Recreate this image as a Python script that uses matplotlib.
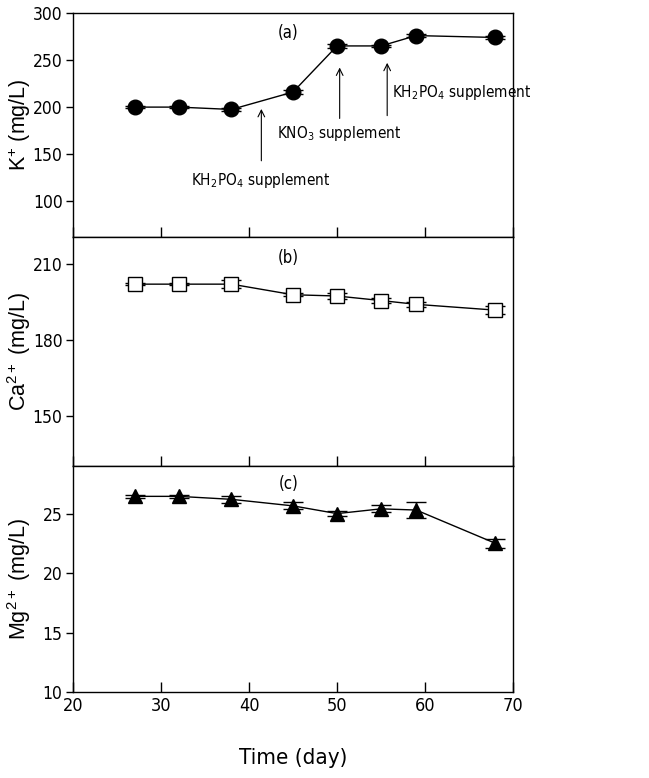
import matplotlib
matplotlib.use("Agg")
import matplotlib.pyplot as plt
from matplotlib import font_manager

# narrow font for ticks/annotations, like the original figure
installed = {f.name for f in font_manager.fontManager.ttflist}
if 'Liberation Sans Narrow' in installed:
    narrow = 'Liberation Sans Narrow'
else:
    narrow = 'DejaVu Sans'
plt.rcParams['font.family'] = [narrow, 'DejaVu Sans']
plt.rcParams['font.stretch'] = 'condensed'
plt.rcParams['mathtext.default'] = 'regular'

days = [27, 32, 38, 45, 50, 55, 59, 68]

k_vals = [200, 200, 197.5, 216, 265, 265, 276, 274]
k_err = [1, 1, 2, 2, 2, 1.5, 2, 2]

ca_vals = [202.1, 202.1, 202.1, 197.9, 197.4, 195.6, 194.1, 191.8]
ca_err = [0.5, 0.5, 1.5, 0.5, 1.0, 1.0, 1.0, 1.5]

mg_vals = [26.45, 26.45, 26.2, 25.65, 25.0, 25.4, 25.3, 22.5]
mg_err = [0.1, 0.1, 0.3, 0.3, 0.2, 0.3, 0.7, 0.4]

fig = plt.figure(figsize=(6.49, 7.78), dpi=100)

left, width = 0.1125, 0.678
ax_a = fig.add_axes([left, 0.6954, width, 0.9833 - 0.6954])
ax_b = fig.add_axes([left, 0.4010, width, 0.6954 - 0.4010])
ax_c = fig.add_axes([left, 0.1105, width, 0.4010 - 0.1105])

panels = [
    (ax_a, k_vals, k_err, 'o', 'black', (62, 300), [100, 150, 200, 250, 300], r'$K^{+}$ (mg/L)', '(a)', 279),
    (ax_b, ca_vals, ca_err, 's', 'white', (130, 220.8), [150, 180, 210], r'$Ca^{2+}$ (mg/L)', '(b)', 212.5),
    (ax_c, mg_vals, mg_err, '^', 'black', (10, 29), [10, 15, 20, 25], r'$Mg^{2+}$ (mg/L)', '(c)', 27.5),
]

for ax, vals, err, mk, fc, ylim, yticks, ylab, tag, tag_y in panels:
    ax.errorbar(days, vals, yerr=err, color='black', lw=1, marker=mk, ms=10.5,
                mfc=fc, mec='black', mew=1, ecolor='black', elinewidth=1,
                capsize=7, capthick=1)
    ax.set_xlim(20, 70)
    ax.set_ylim(*ylim)
    ax.set_yticks(yticks)
    ax.set_xticks([20, 30, 40, 50, 60, 70])
    ax.tick_params(axis='x', direction='in', length=7, width=1, top=False, labelsize=13)
    ax.tick_params(axis='y', direction='out', length=5, width=1, right=False, labelsize=12.5, pad=2.5)
    ax.set_ylabel(ylab, fontsize=15.5, family=['Liberation Sans'], stretch='normal')
    ax.yaxis.set_label_coords(-0.09, 0.5)
    ax.text(44.5, tag_y, tag, ha='center', va='center', fontsize=12)
    for sp in ax.spines.values():
        sp.set_linewidth(1)

ax_a.tick_params(axis='x', labelbottom=False)
ax_b.tick_params(axis='x', labelbottom=False)
ax_c.set_xlabel('Time (day)', fontsize=16, labelpad=24)

arrow_kw = dict(arrowstyle='->', color='black', lw=0.8, mutation_scale=12)
ax_a.annotate('', xy=(41.4, 201), xytext=(41.4, 140), arrowprops=arrow_kw)
ax_a.text(41.3, 122, r'$KH_2PO_4$ supplement', ha='center', va='center', fontsize=11)
ax_a.annotate('', xy=(50.3, 245), xytext=(50.3, 185), arrowprops=arrow_kw)
ax_a.text(50.2, 172, r'$KNO_3$ supplement', ha='center', va='center', fontsize=11)
ax_a.annotate('', xy=(55.7, 250), xytext=(55.7, 188), arrowprops=arrow_kw)
ax_a.text(56.2, 215, r'$KH_2PO_4$ supplement', ha='left', va='center', fontsize=11)

fig.savefig('out.png', dpi=100)
